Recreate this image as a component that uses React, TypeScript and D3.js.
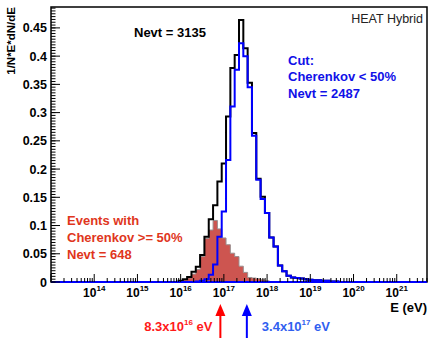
import React from "react";
import * as d3 from "d3";

const W = 429;
const H = 338;

// Histogram bins: centre of each bin in log10(E/eV), width 0.1
const binLogE = [
  16.0, 16.1, 16.2, 16.3, 16.4, 16.5, 16.6, 16.7, 16.8, 16.9,
  17.0, 17.1, 17.2, 17.3, 17.4, 17.5, 17.6, 17.7, 17.8, 17.9,
  18.0, 18.1, 18.2, 18.3, 18.4, 18.5, 18.6, 18.7, 18.8, 18.9,
  19.0, 19.1, 19.2, 19.3, 19.4, 19.5, 19.6,
];

// All events (Nevt = 3135)
const allEvents = [
  0.002, 0.005, 0.009, 0.018, 0.027, 0.048, 0.080, 0.111, 0.136, 0.178,
  0.210, 0.293, 0.379, 0.402, 0.464, 0.414, 0.353, 0.264, 0.183, 0.151,
  0.122, 0.079, 0.063, 0.029, 0.019, 0.011, 0.008, 0.007, 0.006, 0.005,
  0.004, 0.003, 0.003, 0.002, 0.002, 0.001, 0.001,
];

// Cut: Cherenkov < 50% (Nevt = 2487)
const cutEvents = [
  0.0, 0.0, 0.0, 0.0, 0.001, 0.002, 0.005, 0.013, 0.031, 0.080,
  0.125, 0.216, 0.311, 0.376, 0.423, 0.400, 0.345, 0.259, 0.181, 0.147,
  0.122, 0.079, 0.063, 0.029, 0.019, 0.011, 0.008, 0.007, 0.006, 0.005,
  0.004, 0.003, 0.003, 0.002, 0.002, 0.001, 0.001,
];

// Events with Cherenkov >= 50% (Nevt = 648)
const cherenkovEvents = [
  0.002, 0.004, 0.007, 0.014, 0.022, 0.045, 0.077, 0.092, 0.109, 0.094,
  0.078, 0.066, 0.051, 0.045, 0.028, 0.017, 0.008, 0.007, 0.006, 0.004,
  0.002, 0.0, 0.0, 0.0, 0.0, 0.0, 0.0, 0.0, 0.0, 0.0,
  0.0, 0.0, 0.0, 0.0, 0.0, 0.0, 0.0,
];

const yTicks = [0, 0.05, 0.1, 0.15, 0.2, 0.25, 0.3, 0.35, 0.4, 0.45];
const yTickLabels = ["0", "0.05", "0.1", "0.15", "0.2", "0.25", "0.3", "0.35", "0.4", "0.45"];
const xDecades = [14, 15, 16, 17, 18, 19, 20, 21];

// Mean energies marked with arrows
const meanCherenkov = 8.3e16;
const meanCut = 3.4e17;

const FONT = "'Liberation Sans', Arial, Helvetica, sans-serif";

const frame = { left: 51, right: 427, top: 7, bottom: 282 };
const xMin = 1e13;
const xMax = Math.pow(10, 21.7);
const yMax = 0.487;

export default function App() {
  const x = d3.scaleLog().domain([xMin, xMax]).range([frame.left, frame.right]);
  const y = d3.scaleLinear().domain([0, yMax]).range([frame.bottom, frame.top]);
  const half = 0.05;

  const stepPoints = (vals: number[]): [number, number][] => {
    const pts: [number, number][] = [[xMin, 0]];
    vals.forEach((v, i) => pts.push([Math.pow(10, binLogE[i] - half), v]));
    pts.push([Math.pow(10, binLogE[binLogE.length - 1] + half), 0]);
    pts.push([xMax, 0]);
    return pts;
  };

  const line = d3
    .line<[number, number]>()
    .x((d) => x(d[0]))
    .y((d) => y(d[1]))
    .curve(d3.curveStepAfter);

  const area = d3
    .area<[number, number]>()
    .x((d) => x(d[0]))
    .y0(y(0))
    .y1((d) => y(d[1]))
    .curve(d3.curveStepAfter);

  const redPts = stepPoints(cherenkovEvents);

  // y ticks
  const yMinor: number[] = d3.range(0, yMax, 0.005);

  // x log ticks
  const xMajor = d3.range(13, 22).map((e) => Math.pow(10, e));
  const xMinor: number[] = [];
  for (let e = 13; e <= 21; e++) {
    for (let m = 2; m <= 9; m++) {
      const v = m * Math.pow(10, e);
      if (v < xMax) xMinor.push(v);
    }
  }

  const arrowY0 = H;
  const arrowTip = 304;
  const arrow = (xc: number) =>
    `M${xc - 5},${arrowTip + 12} L${xc},${arrowTip} L${xc + 5},${arrowTip + 12} Z`;

  const xr = x(meanCherenkov);
  const xb = x(meanCut);

  return (
    <svg width={W} height={H} style={{ position: "absolute", left: 0, top: 0, background: "#fff" }} fontFamily={FONT}>
      <rect x={0} y={0} width={W} height={H} fill="#fff" />

      {/* Cherenkov >= 50% histogram, filled */}
      <path d={area(redPts) || ""} fill="#cd5550" />
      <path d={line(redPts) || ""} fill="none" stroke="#9a8f8f" strokeWidth={1} />

      {/* all events */}
      <path d={line(stepPoints(allEvents)) || ""} fill="none" stroke="#000" strokeWidth={2} />

      {/* cut sample */}
      <path d={line(stepPoints(cutEvents)) || ""} fill="none" stroke="#0000ff" strokeWidth={2} />

      {/* frame */}
      <rect
        x={frame.left}
        y={frame.top}
        width={frame.right - frame.left}
        height={frame.bottom - frame.top}
        fill="none"
        stroke="#000"
        strokeWidth={1.5}
      />
      <line x1={frame.left} x2={frame.right} y1={frame.bottom} y2={frame.bottom} stroke="#0000ff" strokeWidth={2} />

      {/* y axis ticks */}
      {yMinor.map((v, i) => (
        <line key={"ym" + i} x1={frame.left} x2={frame.left + 4.5} y1={y(v)} y2={y(v)} stroke="#000" strokeWidth={1} />
      ))}
      {yTicks.map((v, i) => (
        <g key={"yt" + i}>
          <line x1={frame.left} x2={frame.left + 9} y1={y(v)} y2={y(v)} stroke="#000" strokeWidth={1} />
          <text x={frame.left - 4} y={y(v) + 4.5} textAnchor="end" fontSize={12.5} fontWeight="bold" fill="#000">
            {yTickLabels[i]}
          </text>
        </g>
      ))}

      {/* x axis ticks */}
      {xMinor.map((v, i) => (
        <line key={"xm" + i} x1={x(v)} x2={x(v)} y1={frame.bottom} y2={frame.bottom - 4} stroke="#000" strokeWidth={1} />
      ))}
      {xMajor.map((v, i) => (
        <line key={"xM" + i} x1={x(v)} x2={x(v)} y1={frame.bottom} y2={frame.bottom - 8} stroke="#000" strokeWidth={1} />
      ))}
      {xDecades.map((e) => (
        <text key={"xl" + e} x={x(Math.pow(10, e))} y={297} textAnchor="middle" fontSize={12} fontWeight="bold" fill="#000">
          10
          <tspan dy={-6} fontSize={8}>
            {e}
          </tspan>
        </text>
      ))}

      {/* axis titles */}
      <text x={427} y={312} textAnchor="end" fontSize={13} fontWeight="bold" fill="#000">
        E (eV)
      </text>
      <text
        transform={`translate(15, ${frame.top}) rotate(-90)`}
        textAnchor="end"
        fontSize={11.5}
        fontWeight="bold"
        fill="#000"
      >
        1/N*E*dN/dE
      </text>

      {/* annotations */}
      <text x={423} y={23} textAnchor="end" fontSize={12.5} fill="#222">
        HEAT Hybrid
      </text>
      <text x={134} y={37} fontSize={13} fontWeight="bold" fill="#000">
        Nevt = 3135
      </text>
      <g fontSize={13} fontWeight="bold" fill="#1010e8">
        <text x={288} y={65}>Cut:</text>
        <text x={288} y={81}>Cherenkov &lt; 50%</text>
        <text x={288} y={98}>Nevt = 2487</text>
      </g>
      <g fontSize={13} fontWeight="bold" fill="#e0361c">
        <text x={67} y={225}>Events with</text>
        <text x={67} y={242}>Cherenkov &gt;= 50%</text>
        <text x={67} y={259}>Nevt = 648</text>
      </g>

      {/* mean energy arrows */}
      <line x1={xr} x2={xr} y1={arrowY0} y2={arrowTip + 8} stroke="#ff0000" strokeWidth={2} />
      <path d={arrow(xr)} fill="#ff0000" />
      <line x1={xb} x2={xb} y1={arrowY0} y2={arrowTip + 8} stroke="#0000ff" strokeWidth={2} />
      <path d={arrow(xb)} fill="#0000ff" />

      <text x={xr - 8} y={331} textAnchor="end" fontSize={13} fontWeight="bold" fill="#ff1a1a">
        8.3x10<tspan dy={-6} fontSize={8}>16</tspan>
        <tspan dy={6}> eV</tspan>
      </text>
      <text x={xb + 15} y={331} fontSize={13} fontWeight="bold" fill="#3060f0">
        3.4x10<tspan dy={-6} fontSize={8}>17</tspan>
        <tspan dy={6}> eV</tspan>
      </text>
    </svg>
  );
}
